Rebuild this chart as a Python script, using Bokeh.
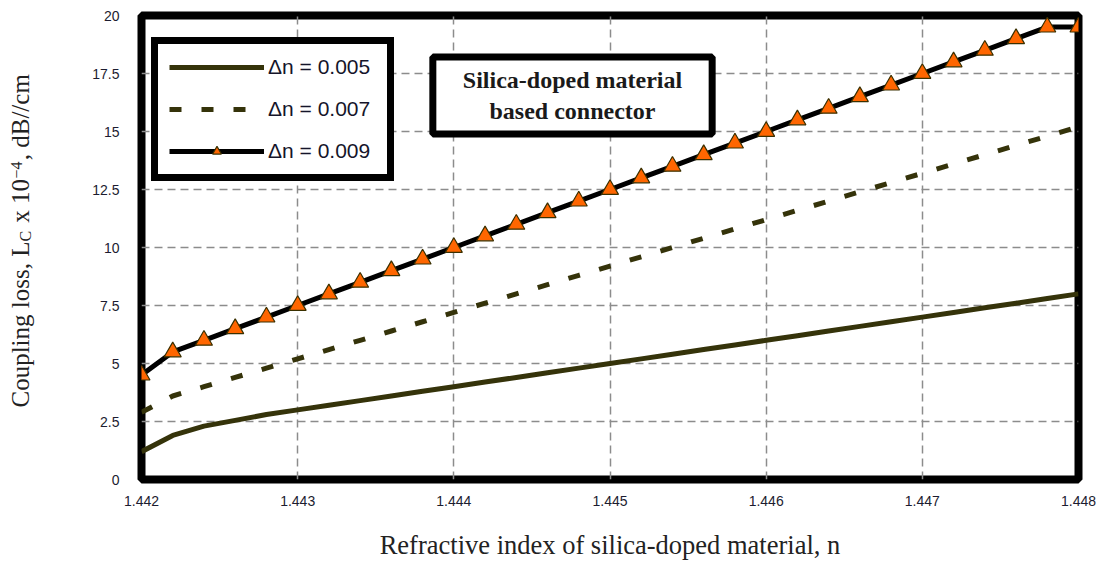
from math import pi

from bokeh.embed import file_html
from bokeh.models import FixedTicker, Label, Legend, LegendItem, Range1d
from bokeh.plotting import figure
from bokeh.resources import INLINE

# Refractive index of the silica-doped material (x) and coupling loss, x 1e-4 dB/cm
refractive_index = [
    1.4420, 1.4422, 1.4424, 1.4426, 1.4428, 1.4430, 1.4432, 1.4434, 1.4436, 1.4438,
    1.4440, 1.4442, 1.4444, 1.4446, 1.4448, 1.4450, 1.4452, 1.4454, 1.4456, 1.4458,
    1.4460, 1.4462, 1.4464, 1.4466, 1.4468, 1.4470, 1.4472, 1.4474, 1.4476, 1.4478,
    1.4480,
]
loss_dn_005 = [
    1.2, 1.9, 2.3, 2.55, 2.8, 3.0, 3.2, 3.4, 3.6, 3.8,
    4.0, 4.2, 4.4, 4.6, 4.8, 5.0, 5.2, 5.4, 5.6, 5.8,
    6.0, 6.2, 6.4, 6.6, 6.8, 7.0, 7.2, 7.4, 7.6, 7.8,
    8.0,
]
loss_dn_007 = [
    2.9, 3.6, 4.0, 4.4, 4.8, 5.2, 5.6, 6.0, 6.4, 6.8,
    7.2, 7.6, 8.0, 8.4, 8.8, 9.2, 9.6, 10.0, 10.4, 10.8,
    11.2, 11.6, 12.0, 12.4, 12.8, 13.2, 13.6, 14.0, 14.4, 14.8,
    15.2,
]
loss_dn_009 = [
    4.5, 5.5, 6.0, 6.5, 7.0, 7.5, 8.0, 8.5, 9.0, 9.5,
    10.0, 10.5, 11.0, 11.5, 12.0, 12.5, 13.0, 13.5, 14.0, 14.5,
    15.0, 15.5, 16.0, 16.5, 17.0, 17.5, 18.0, 18.5, 19.0, 19.5,
    19.5,
]
series_labels = ["\u0394n = 0.005", "\u0394n = 0.007", "\u0394n = 0.009"]

x_ticks = [1.442, 1.443, 1.444, 1.445, 1.446, 1.447, 1.448]
x_tick_labels = ["1.442", "1.443", "1.444", "1.445", "1.446", "1.447", "1.448"]
y_ticks = [0, 2.5, 5, 7.5, 10, 12.5, 15, 17.5, 20]
y_tick_labels = ["0", "2.5", "5", "7.5", "10", "12.5", "15", "17.5", "20"]

OLIVE = "#35330a"
ORANGE = "#ff6600"
TICK_FONT = "Liberation Sans"
SERIF = "Liberation Serif"
NBSP = "\u00a0"

p = figure(
    width=1096, height=562,
    x_range=Range1d(x_ticks[0], x_ticks[-1]),
    y_range=Range1d(y_ticks[0], y_ticks[-1]),
    output_backend="svg", toolbar_location=None,
    min_border_left=141, min_border_right=18, min_border_top=15, min_border_bottom=83,
)
p.background_fill_color = "white"
p.border_fill_color = "white"
p.outline_line_color = "black"
p.outline_line_width = 8

# axes: no lines or ticks, only the labels
for ax in (p.xaxis[0], p.yaxis[0]):
    ax.axis_line_color = None
    ax.major_tick_line_color = None
    ax.minor_tick_line_color = None
    ax.major_label_text_font = TICK_FONT
    ax.major_label_text_font_size = "14px"
    ax.major_label_text_color = "#1c1c30"
p.xaxis.ticker = FixedTicker(ticks=x_ticks)
p.xaxis.major_label_overrides = dict(zip(x_ticks, x_tick_labels))
p.xaxis.major_label_standoff = 10
p.xaxis.axis_label = "Refractive index of silica-doped material, n"
p.xaxis.axis_label_text_font = SERIF
p.xaxis.axis_label_text_font_size = "26.5px"
p.xaxis.axis_label_text_font_style = "normal"
p.xaxis.axis_label_text_color = "#222222"
p.xaxis.axis_label_standoff = 21
p.yaxis.ticker = FixedTicker(ticks=y_ticks)
p.yaxis.major_label_overrides = dict(zip(y_ticks, y_tick_labels))
p.yaxis.major_label_standoff = 16

for g in (p.xgrid[0], p.ygrid[0]):
    g.grid_line_color = "#8c8c8c"
    g.grid_line_width = 1.5
    g.grid_line_dash = "8 5"

r_005 = p.line(refractive_index, loss_dn_005, line_color=OLIVE, line_width=5)
r_007 = p.line(refractive_index, loss_dn_007, line_color=OLIVE, line_width=5,
               line_dash="12 20")
r_009 = p.line(refractive_index, loss_dn_009, line_color="black", line_width=5)
m_009 = p.scatter(refractive_index, loss_dn_009, marker="triangle", size=17,
                  fill_color=ORANGE, line_color="#3a3000", line_width=1.2)

legend = Legend(
    items=[
        LegendItem(label=series_labels[0], renderers=[r_005]),
        LegendItem(label=series_labels[1], renderers=[r_007]),
        LegendItem(label=series_labels[2], renderers=[r_009, m_009]),
    ],
    location=(10, 298),
    orientation="vertical",
    border_line_color="black", border_line_width=7, border_line_alpha=1,
    background_fill_color="white", background_fill_alpha=1,
    label_text_font="Liberation Sans", label_text_font_size="21px",
    label_text_color="#15152a",
    glyph_width=95, glyph_height=22, label_height=22, label_width=108,
    label_standoff=4, spacing=18, padding=11, margin=0,
)
p.add_layout(legend)

# boxed note inside the frame
note = Label(
    x=431, y=384, x_units="screen", y_units="screen",
    text="Silica-doped material\nbased connector",
    text_font=SERIF, text_font_style="bold", text_font_size="24px",
    text_color="#1a1a1a", text_align="center", text_baseline="middle",
    border_line_color="black", border_line_width=7,
    background_fill_color="white",
    padding=dict(left=30, right=30, top=10, bottom=10),
)
p.add_layout(note)

# y axis title: the main run leaves gaps (non-breaking spaces) that the
# subscript C and the superscript -4 fill; each piece sits in the left panel
gap_c = NBSP * 2
gap_exp = NBSP * 3
y_title_parts = [
    # text, offset along the axis, offset across it, font size
    ("Coupling loss, L" + gap_c + " x 10" + gap_exp + ", dB//cm", 72, -42, "25px"),
    ("C", 238, -20, "16px"),
    ("\u22124", 301, -18, "16px"),
]
for text, sy, sx, size in y_title_parts:
    p.add_layout(Label(
        x=sx, y=sy, x_units="screen", y_units="screen", text=text, angle=pi / 2,
        text_font=SERIF, text_font_size=size, text_color="#222222",
        text_align="left", text_baseline="alphabetic",
    ), "left")

open("out.html", "w").write(file_html(p, INLINE))
